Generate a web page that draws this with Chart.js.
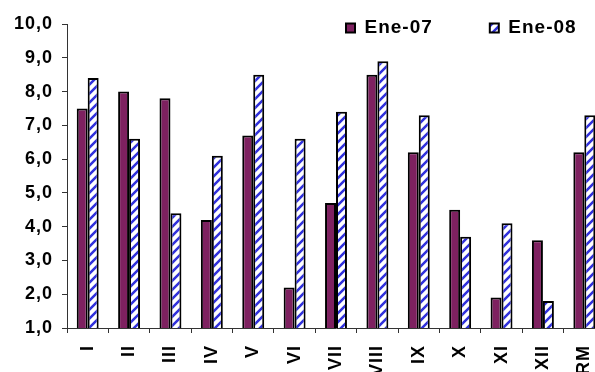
<!DOCTYPE html>
<html>
<head>
<meta charset="utf-8">
<script src="https://cdn.jsdelivr.net/npm/chart.js@4"></script>
<style>
  html, body { margin: 0; padding: 0; background: #fff; overflow: hidden; }
  #wrap { position: relative; width: 605px; height: 372px; }
</style>
</head>
<body>
<div id="wrap"><canvas id="chart"></canvas></div>
<script>
// Monthly values, January 2007 vs January 2008
const categories = ['I', 'II', 'III', 'IV', 'V', 'VI', 'VII', 'VIII', 'IX', 'X', 'XI', 'XII', 'RM'];
const ene07 = [7.5, 8.0, 7.8, 4.2, 6.7, 2.2, 4.7, 8.5, 6.2, 4.5, 1.9, 3.6, 6.2];
const ene08 = [8.4, 6.6, 4.4, 6.1, 8.5, 6.6, 7.4, 8.9, 7.3, 3.7, 4.1, 1.8, 7.3];
const seriesNames = ['Ene-07', 'Ene-08'];
const yMin = 1, yMax = 10, yStep = 1;

// Diagonal blue/white hatch used to fill the second series
function makeHatch() {
  const size = 9;
  const c = document.createElement('canvas');
  c.width = size; c.height = size;
  const g = c.getContext('2d');
  const img = g.createImageData(size, size);
  for (let y = 0; y < size; y++) {
    for (let x = 0; x < size; x++) {
      const d = ((x + y) % size + size) % size;
      const dist = Math.min(Math.abs(d - 2), size - Math.abs(d - 2));
      const t = 1 - Math.max(0, Math.min(1, dist - 1.3));
      const i = (y * size + x) * 4;
      img.data[i] = Math.round(255 + (50 - 255) * t);
      img.data[i + 1] = Math.round(255 + (50 - 255) * t);
      img.data[i + 2] = Math.round(255 + (220 - 255) * t);
      img.data[i + 3] = 255;
    }
  }
  g.putImageData(img, 0, 0);
  return g.createPattern(c, 'repeat');
}

const hatch = makeHatch();
const axisColor = '#333';
const fontFamily = 'Liberation Sans, Arial, sans-serif';
const tickFont = { family: fontFamily, size: 18, weight: 'bold' };

// Slightly wider text spacing for all labels
const textSpacing = {
  id: 'textSpacing',
  beforeUpdate(chart) { chart.ctx.letterSpacing = '1px'; },
  beforeDraw(chart) { chart.ctx.letterSpacing = '1px'; }
};

// Moves the one-row legend to the upper right, over the plot area
const legendPlacer = {
  id: 'legendPlacer',
  afterLayout(chart) {
    const lg = chart.legend;
    if (!lg) return;
    const pad = lg.options.labels.padding;
    lg.left = 346 - pad;
    lg.top = 18.5 - pad;
    lg.right = lg.left + 1000;
    lg.width = 1000;
    lg.bottom = lg.top + 200;
    lg.height = 200;
  }
};

new Chart(document.getElementById('chart'), {
  type: 'bar',
  data: {
    labels: categories,
    datasets: [
      {
        label: seriesNames[0],
        data: ene07,
        backgroundColor: '#7e2160',
        borderColor: '#000',
        borderWidth: 2
      },
      {
        label: seriesNames[1],
        data: ene08,
        backgroundColor: hatch,
        borderColor: '#000',
        borderWidth: 2
      }
    ]
  },
  options: {
    responsive: true,
    maintainAspectRatio: false,
    animation: false,
    devicePixelRatio: 1,
    layout: { padding: { top: 23, right: 0, left: 0, bottom: 0 } },
    datasets: {
      bar: { categoryPercentage: 0.53, barPercentage: 1.0 }
    },
    plugins: {
      legend: {
        position: 'top',
        align: 'start',
        maxHeight: 1,
        labels: {
          boxWidth: 9,
          boxHeight: 9,
          padding: 57,
          color: '#000',
          font: { family: fontFamily, size: 19, weight: 'bold' }
        }
      },
      tooltip: { enabled: false }
    },
    scales: {
      x: {
        afterFit(scale) {
          scale.height = 44;
          scale.paddingLeft = 0;
          scale.paddingRight = 0;
        },
        grid: { drawOnChartArea: false, drawTicks: true, tickLength: 5, color: axisColor, offset: true },
        border: { display: true, color: axisColor, width: 1 },
        ticks: {
          color: '#000',
          font: tickFont,
          minRotation: 90,
          maxRotation: 90,
          autoSkip: false,
          padding: 12
        }
      },
      y: {
        min: yMin,
        max: yMax,
        afterFit(scale) { scale.width = 67; },
        grid: { drawOnChartArea: false, drawTicks: true, tickLength: 5, color: axisColor },
        border: { display: true, color: axisColor, width: 1 },
        ticks: {
          stepSize: yStep,
          color: '#000',
          font: tickFont,
          padding: 9,
          callback: (v) => Number(v).toFixed(1).replace('.', ',')
        }
      }
    }
  },
  plugins: [textSpacing, legendPlacer]
});
</script>
</body>
</html>
